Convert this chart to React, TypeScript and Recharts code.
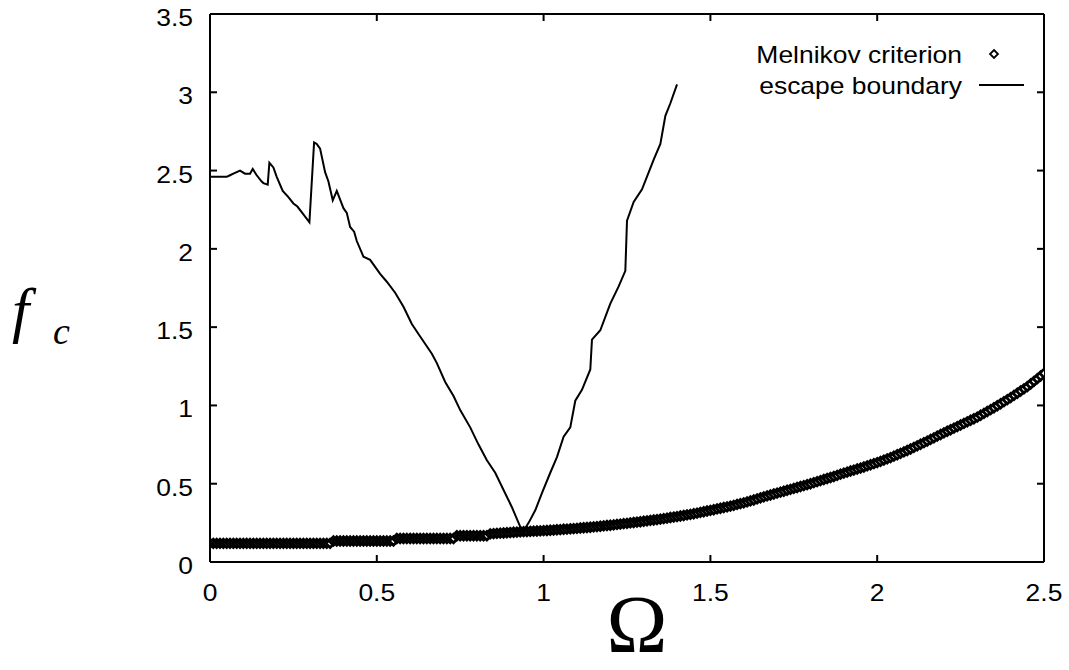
import { ScatterChart, Scatter, XAxis, YAxis } from "recharts"

// Melnikov criterion, one value per 0.01 step of Omega from 0 to 2.5
const melnikovF = [
  0.119, 0.119, 0.119, 0.119, 0.119, 0.119, 0.119, 0.119, 0.119, 0.119,
  0.119, 0.119, 0.119, 0.119, 0.119, 0.119, 0.119, 0.119, 0.119, 0.119,
  0.119, 0.119, 0.119, 0.119, 0.119, 0.119, 0.119, 0.119, 0.119, 0.119,
  0.119, 0.119, 0.119, 0.119, 0.119, 0.119, 0.119,
  0.134, 0.134, 0.134, 0.134, 0.134, 0.134, 0.134, 0.134, 0.134, 0.134,
  0.134, 0.134, 0.134, 0.134, 0.134, 0.134, 0.134, 0.134, 0.134,
  0.150, 0.150, 0.150, 0.150, 0.150, 0.150, 0.150, 0.150, 0.150, 0.150,
  0.150, 0.150, 0.150, 0.150, 0.150, 0.150, 0.150, 0.150,
  0.168, 0.168, 0.168, 0.168, 0.168, 0.168, 0.168, 0.168, 0.168, 0.168,
  0.180, 0.181, 0.183, 0.184, 0.185, 0.187, 0.188, 0.190, 0.191, 0.193,
  0.194, 0.195, 0.196, 0.197, 0.198, 0.199, 0.200, 0.201, 0.203, 0.204,
  0.206, 0.207, 0.209, 0.210, 0.212, 0.213, 0.215, 0.217, 0.219, 0.220,
  0.222, 0.224, 0.226, 0.228, 0.231, 0.233, 0.235, 0.237, 0.240, 0.242,
  0.245, 0.247, 0.250, 0.252, 0.255, 0.257, 0.260, 0.263, 0.266, 0.268,
  0.271, 0.274, 0.277, 0.280, 0.284, 0.287, 0.290, 0.294, 0.297, 0.301,
  0.304, 0.308, 0.312, 0.317, 0.321, 0.326, 0.330, 0.334, 0.339, 0.343,
  0.348, 0.352, 0.357, 0.362, 0.368, 0.373, 0.378, 0.384, 0.390, 0.396,
  0.403, 0.410, 0.416, 0.422, 0.428, 0.434, 0.440, 0.446, 0.452, 0.458,
  0.464, 0.470, 0.476, 0.482, 0.488, 0.494, 0.500, 0.507, 0.513, 0.520,
  0.527, 0.533, 0.540, 0.546, 0.553, 0.561, 0.568, 0.574, 0.581, 0.587,
  0.594, 0.600, 0.607, 0.614, 0.621, 0.628, 0.635, 0.643, 0.651, 0.659,
  0.667, 0.676, 0.685, 0.694, 0.703, 0.712, 0.722, 0.732, 0.742, 0.752,
  0.762, 0.772, 0.783, 0.793, 0.804, 0.814, 0.825, 0.835, 0.845, 0.855,
  0.865, 0.875, 0.885, 0.895, 0.905, 0.915, 0.925, 0.937, 0.949, 0.961,
  0.973, 0.985, 0.998, 1.011, 1.024, 1.037, 1.050, 1.064, 1.078, 1.092,
  1.106, 1.120, 1.137, 1.154, 1.171, 1.188, 1.205
]
const melnikovStep = 0.01

// escape boundary
const escapeOmega = [
  0, 0.05, 0.06, 0.07, 0.09, 0.105, 0.12, 0.128, 0.14, 0.155,
  0.16, 0.173, 0.178, 0.19, 0.2, 0.218, 0.235, 0.25, 0.262, 0.28,
  0.298, 0.312, 0.32, 0.33, 0.345, 0.355, 0.368, 0.38, 0.4, 0.41,
  0.42, 0.432, 0.44, 0.46, 0.48, 0.51, 0.53, 0.555, 0.58, 0.605,
  0.63, 0.665, 0.68, 0.705, 0.73, 0.75, 0.78, 0.805, 0.83, 0.855,
  0.88, 0.905, 0.93, 0.94, 0.955, 0.975, 0.995, 1.02, 1.04, 1.06,
  1.08, 1.095, 1.115, 1.14, 1.145, 1.17, 1.2, 1.225, 1.245, 1.25,
  1.27, 1.295, 1.33, 1.35, 1.365, 1.38, 1.4
]
const escapeF = [
  2.46, 2.46, 2.47, 2.48, 2.5, 2.48, 2.48, 2.51, 2.47, 2.43,
  2.42, 2.41, 2.55, 2.52, 2.46, 2.37, 2.33, 2.29, 2.27, 2.22,
  2.17, 2.68, 2.67, 2.64, 2.49, 2.43, 2.31, 2.37, 2.26, 2.23,
  2.14, 2.11, 2.05, 1.95, 1.93, 1.84, 1.79, 1.72, 1.63, 1.52,
  1.44, 1.33, 1.27, 1.15, 1.06, 0.97, 0.86, 0.75, 0.65, 0.57,
  0.46, 0.35, 0.225, 0.2, 0.25, 0.33, 0.44, 0.57, 0.67, 0.8,
  0.86, 1.03, 1.1, 1.23, 1.42, 1.48, 1.65, 1.76, 1.86, 2.18,
  2.3, 2.38, 2.57, 2.67, 2.85, 2.93, 3.05
]

const xTicks = [0, 0.5, 1, 1.5, 2, 2.5]
const yTicks = [0, 0.5, 1, 1.5, 2, 2.5, 3, 3.5]

const melnikovData = melnikovF.map((f, i) => ({ x: +(i * melnikovStep).toFixed(2), y: f }))
const escapeData = escapeOmega.map((x, i) => ({ x, y: escapeF[i] }))

const SANS = "'Liberation Sans', Arial, sans-serif"
const SERIF = "'Liberation Serif', 'Times New Roman', serif"

// gnuplot-ish text is a little wide, stretch it a bit
const Label = ({ x, y, anchor, children }: any) => (
  <text
    transform={`translate(${x},${y}) scale(1.15,1)`}
    textAnchor={anchor}
    fontFamily={SANS}
    fontSize={23}
    fill="#000"
  >
    {children}
  </text>
)

const diamond = (cx: number, cy: number, r: number) =>
  `M${cx},${cy - r}L${cx + r},${cy}L${cx},${cy + r}L${cx - r},${cy}Z`

const DiamondShape = ({ cx, cy }: any) => (
  <path d={diamond(cx, cy, 4.2)} fill="#fff" stroke="#000" strokeWidth={2.8} />
)

const TICK = 7

const LeftTick = ({ x, y, payload }: any) => (
  <g>
    <path d={`M${x},${y}H${x + TICK}`} stroke="#000" strokeWidth={2} />
    <Label x={x - 17} y={y + 12} anchor="end">{payload.value}</Label>
  </g>
)
const BottomTick = ({ x, y, payload }: any) => (
  <g>
    <path d={`M${x},${y}V${y - TICK}`} stroke="#000" strokeWidth={2} />
    <Label x={x} y={y + 39} anchor="middle">{payload.value}</Label>
  </g>
)
const RightTick = ({ x, y }: any) => (
  <path d={`M${x},${y}H${x - TICK}`} stroke="#000" strokeWidth={2} />
)
const TopTick = ({ x, y }: any) => (
  <path d={`M${x},${y}V${y + TICK}`} stroke="#000" strokeWidth={2} />
)

export default function App() {
  const axisLine = { stroke: "#000", strokeWidth: 2 }
  return (
    <div style={{ position: "absolute", left: 0, top: 0, width: 1069, height: 670, background: "#fff" }}>
      <ScatterChart width={1069} height={670} margin={{ top: 13, right: 24, bottom: 48, left: 150 }}>
        <XAxis
          xAxisId="bottom"
          type="number"
          dataKey="x"
          domain={[0, 2.5]}
          ticks={xTicks}
          allowDataOverflow
          height={60}
          tickSize={0}
          tickMargin={0}
          axisLine={axisLine}
          tickLine={false}
          tick={<BottomTick />}
        />
        <XAxis
          xAxisId="top"
          orientation="top"
          type="number"
          dataKey="x"
          domain={[0, 2.5]}
          ticks={xTicks}
          allowDataOverflow
          height={1}
          tickSize={0}
          tickMargin={0}
          axisLine={axisLine}
          tickLine={false}
          tick={<TopTick />}
        />
        <YAxis
          yAxisId="left"
          type="number"
          dataKey="y"
          domain={[0, 3.5]}
          ticks={yTicks}
          allowDataOverflow
          width={60}
          tickSize={0}
          tickMargin={0}
          axisLine={axisLine}
          tickLine={false}
          tick={<LeftTick />}
        />
        <YAxis
          yAxisId="right"
          orientation="right"
          type="number"
          dataKey="y"
          domain={[0, 3.5]}
          ticks={yTicks}
          allowDataOverflow
          width={1}
          tickSize={0}
          tickMargin={0}
          axisLine={axisLine}
          tickLine={false}
          tick={<RightTick />}
        />
        {/* empty series so the mirrored top/right axes get drawn */}
        <Scatter
          xAxisId="top"
          yAxisId="right"
          data={[]}
          isAnimationActive={false}
        />
        <Scatter
          name="Melnikov criterion"
          xAxisId="bottom"
          yAxisId="left"
          data={melnikovData}
          shape={<DiamondShape />}
          isAnimationActive={false}
        />
        <Scatter
          name="escape boundary"
          xAxisId="bottom"
          yAxisId="left"
          data={escapeData}
          line={{ stroke: "#000", strokeWidth: 2 }}
          lineType="joint"
          shape={() => <g />}
          isAnimationActive={false}
        />
      </ScatterChart>

      {/* axis titles and key, drawn on top */}
      <svg
        width={1069}
        height={670}
        style={{ position: "absolute", left: 0, top: 0, pointerEvents: "none" }}
      >
        <text x={12} y={331} fontFamily={SERIF} fontStyle="italic" fontSize={62} fill="#000">f</text>
        <text x={53} y={344} fontFamily={SERIF} fontStyle="italic" fontSize={38} fill="#000">c</text>
        <text x={637} y={652} textAnchor="middle" fontFamily={SERIF} fontSize={82} fill="#000">Ω</text>

        <Label x={962} y={63} anchor="end">Melnikov criterion</Label>
        <path d={diamond(994, 54, 4)} fill="#fff" stroke="#000" strokeWidth={1.8} />
        <Label x={962} y={94} anchor="end">escape boundary</Label>
        <line x1={979} y1={85} x2={1024} y2={85} stroke="#000" strokeWidth={2} />
      </svg>
    </div>
  )
}
